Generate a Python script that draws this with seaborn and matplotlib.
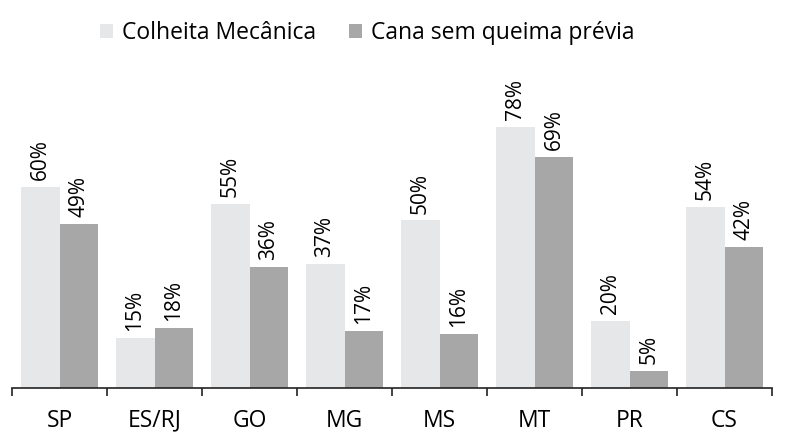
import matplotlib.pyplot as plt
import seaborn as sns
import pandas as pd

regions = ["SP", "ES/RJ", "GO", "MG", "MS", "MT", "PR", "CS"]
colheita = [60, 15, 55, 37, 50, 78, 20, 54]
sem_queima = [49, 18, 36, 17, 16, 69, 5, 42]
series = ["Colheita Mecânica", "Cana sem queima prévia"]

df = pd.DataFrame({
    "region": regions * 2,
    "value": colheita + sem_queima,
    "serie": [series[0]] * len(regions) + [series[1]] * len(regions),
})

sns.set_style("white")
plt.rcParams["font.family"] = ["Open Sans", "DejaVu Sans"]
plt.rcParams["text.color"] = "black"
plt.rcParams["xtick.color"] = "black"

fig = plt.figure(figsize=(7.86, 4.44), dpi=100)
ax = fig.add_axes([12 / 786, 56 / 444, 760 / 786, 335 / 444])

sns.barplot(data=df, x="region", y="value", hue="serie", ax=ax,
            palette=["#e6e7e8", "#a7a7a8"], width=0.82, gap=0,
            saturation=1, edgecolor="none")

for cont in ax.containers:
    ax.bar_label(cont, labels=[f"{v:.0f}%" for v in cont.datavalues],
                 rotation=90, padding=5, fontsize=15, color="black")

ax.set_xlim(-0.5, 7.5)
ax.set_ylim(0, 100)
ax.set_xlabel("")
ax.set_ylabel("")
ax.set_yticks([])
for s in ["top", "right", "left"]:
    ax.spines[s].set_visible(False)
ax.spines["bottom"].set_color("#222222")
ax.spines["bottom"].set_linewidth(1.2)
ax.set_xticks([i - 0.5 for i in range(len(regions) + 1)], minor=True)
ax.tick_params(axis="x", which="major", length=0, labelsize=16.5, pad=15,
               labelcolor="black")
ax.tick_params(axis="x", which="minor", length=6, width=1.2, color="#222222",
               direction="out", bottom=True)

ax.legend(loc="center left", bbox_to_anchor=(79 / 760, 1 + 20 / 335), ncol=2,
          frameon=False, fontsize=16.5, handlelength=0.55, handleheight=0.55,
          handletextpad=0.4, columnspacing=1.45, borderaxespad=0,
          labelcolor="black")

fig.savefig("out.png", dpi=100)
